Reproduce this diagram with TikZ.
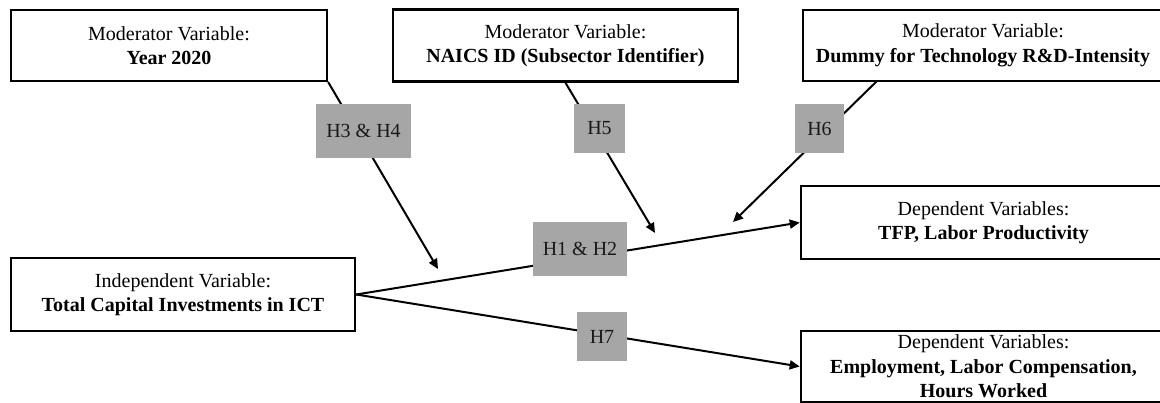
\documentclass[tikz,border=0pt]{standalone}
\usepackage{fontspec}
\setmainfont{Liberation Serif}
\usetikzlibrary{arrows.meta}
\definecolor{hypgray}{HTML}{A6A6A6}
\begin{document}
\begin{tikzpicture}[x=1pt,y=-1pt,
  varbox/.style={draw=black, line width=2.6pt, fill=white, align=center,
    inner sep=0pt, font=\fontsize{20}{24.5}\selectfont},
  hyp/.style={fill=hypgray, inner sep=0pt, align=center,
    font=\fontsize{20}{24}\selectfont, text=black!90},
  link/.style={line width=2pt, line cap=round},
  effect/.style={link, -{Triangle[length=10pt,width=9pt]}}]
\useasboundingbox (0,0) rectangle (1160,403);

% variable boxes (the right-hand ones run past the page edge)
\node[varbox, minimum width=316pt, minimum height=71pt] (m1) at (169,45.5)
  {Moderator Variable:\\\textbf{Year 2020}};
\node[varbox, minimum width=345pt, minimum height=72pt] (m2) at (565.5,45.5)
  {Moderator Variable:\\\textbf{NAICS ID (Subsector Identifier)}};
\node[varbox, minimum width=360pt, minimum height=71pt] (m3) at (983,45.5)
  {Moderator Variable:\\\textbf{Dummy for Technology R\&D-Intensity}};
\node[varbox, minimum width=344pt, minimum height=73pt] (ind) at (183,294.5)
  {Independent Variable:\\\textbf{Total Capital Investments in ICT}};
\node[varbox, minimum width=365pt, minimum height=73pt] (d1) at (983.5,222.5)
  {Dependent Variables:\\\textbf{TFP, Labor Productivity}};
\node[varbox, minimum width=365pt, minimum height=71pt] (d2) at (983.5,366.5)
  {Dependent Variables:\\\textbf{Employment, Labor Compensation,}\\\textbf{Hours Worked}};

% ends of the moderating arrows
\coordinate (s3) at (877,81);
\coordinate (t1) at (438,269);
\coordinate (t2) at (655,233);
\coordinate (t3) at (733,222);

% direct effects
\draw[effect] (ind.east) -- (d1.west);
\draw[effect] (ind.east) -- (d2.west);

% moderating effects
\draw[effect] (m1.south east) -- (t1);
\draw[effect] (m2.south) -- (t2);
\draw[effect] (s3) -- (t3);

% hypothesis labels
\node[hyp, minimum width=95pt, minimum height=54pt] (h34) at (363.5,131) {H3 \& H4};
\node[hyp, minimum width=51pt, minimum height=49pt] (h5) at (599.5,128.5) {H5};
\node[hyp, minimum width=49pt, minimum height=49pt] (h6) at (819.5,128.5) {H6};
\node[hyp, minimum width=94pt, minimum height=54pt] (h12) at (580,249) {H1 \& H2};
\node[hyp, minimum width=50pt, minimum height=49pt] (h7) at (602,336.5) {H7};
\end{tikzpicture}
\end{document}
